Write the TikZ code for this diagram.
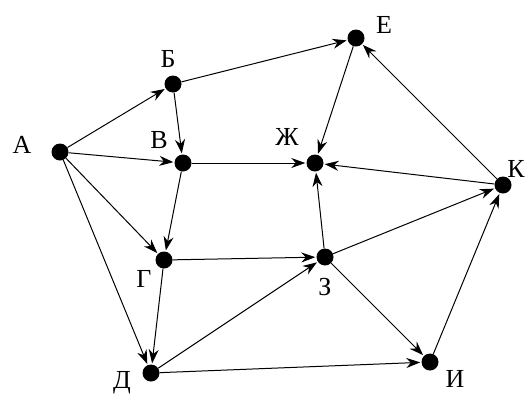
\documentclass[tikz,border=0pt]{standalone}
\usepackage{fontspec}
\setmainfont{Liberation Serif}
\usetikzlibrary{arrows.meta}
\begin{document}
\begin{tikzpicture}[x=1pt,y=-1pt,
  vtx/.style={circle,fill=black,inner sep=0pt,minimum size=17pt},
  lbl/.style={font=\fontsize{26}{26}\selectfont,inner sep=0pt,anchor=base},
  edge/.style={line width=1pt,-{Stealth[length=14pt,width=10pt,inset=4.5pt]},shorten >=1pt}]
\useasboundingbox (0,0) rectangle (528,397);
\node[vtx] (A) at (60,152) {};
\node[vtx] (B) at (173,84) {};
\node[vtx] (V) at (183,163) {};
\node[vtx] (G) at (164,260) {};
\node[vtx] (D) at (151,373) {};
\node[vtx] (E) at (356,38) {};
\node[vtx] (Zh) at (315,163) {};
\node[vtx] (Z) at (325,257) {};
\node[vtx] (I) at (430,362) {};
\node[vtx] (K) at (503,185) {};
\node[lbl] (lA) at (22,153) {А};
\node[lbl] (lB) at (168,67) {Б};
\node[lbl] (lV) at (159,148) {В};
\node[lbl] (lG) at (144,287) {Г};
\node[lbl] (lD) at (122,388) {Д};
\node[lbl] (lE) at (384,33) {Е};
\node[lbl] (lZh) at (287,145) {Ж};
\node[lbl] (lZ) at (325,295) {З};
\node[lbl] (lI) at (455,387) {И};
\node[lbl] (lK) at (516,177) {К};
\draw[edge] (A) -- (B);
\draw[edge] (A) -- (V);
\draw[edge] (A) -- (G);
\draw[edge] (A) -- (D);
\draw[edge] (B) -- (V);
\draw[edge] (B) -- (E);
\draw[edge] (V) -- (Zh);
\draw[edge] (V) -- (G);
\draw[edge] (G) -- (Z);
\draw[edge] (G) -- (D);
\draw[edge] (D) -- (Z);
\draw[edge] (D) -- (I);
\draw[edge] (E) -- (Zh);
\draw[edge] (Z) -- (Zh);
\draw[edge] (Z) -- (K);
\draw[edge] (Z) -- (I);
\draw[edge] (I) -- (K);
\draw[edge] (K) -- (E);
\draw[edge] (K) -- (Zh);
\end{tikzpicture}
\end{document}
